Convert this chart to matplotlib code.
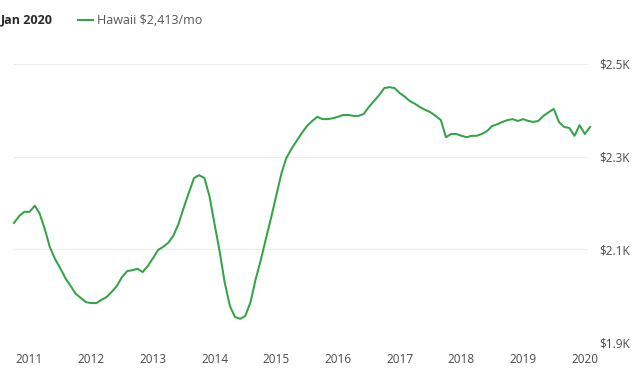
import matplotlib
matplotlib.use("Agg")
import matplotlib.pyplot as plt
import pandas as pd

start_month = "2010-10-01"
values = [
    2157, 2172, 2181, 2181, 2194, 2178, 2144, 2105, 2079, 2060, 2038, 2021,
    2004, 1995, 1986, 1984, 1984, 1991, 1997, 2008, 2021, 2040, 2053, 2055,
    2058, 2051, 2064, 2081, 2099, 2105, 2114, 2129, 2155, 2189, 2222, 2254,
    2260, 2254, 2215, 2153, 2092, 2029, 1978, 1954, 1950, 1956, 1986, 2036,
    2077, 2124, 2168, 2217, 2265, 2297, 2317, 2334, 2351, 2366, 2377, 2386,
    2381, 2381, 2383, 2386, 2390, 2390, 2388, 2388, 2392, 2407, 2420, 2433,
    2448, 2450, 2448, 2437, 2429, 2420, 2414, 2407, 2401, 2396, 2388, 2379,
    2342, 2349, 2349, 2345, 2342, 2345, 2345, 2349, 2355, 2366, 2370, 2375,
    2379, 2381, 2377, 2381, 2377, 2375, 2377, 2388, 2396, 2403, 2375, 2364,
    2362, 2345, 2368, 2349, 2364,
]
dates = pd.date_range(start_month, periods=len(values), freq="MS")
year_ticks = list(range(2011, 2021))
y_ticks = [1900, 2100, 2300, 2500]
y_tick_labels = ["$1.9K", "$2.1K", "$2.3K", "$2.5K"]
header_label = "Jan 2020"
series_label = "Hawaii $2,413/mo"

GREEN = "#33a347"
FONT = ["Open Sans", "DejaVu Sans"]
plt.rcParams["font.family"] = FONT

fig = plt.figure(figsize=(6.4, 3.72), dpi=100)
ax = fig.add_axes([14 / 640, 30 / 372, (588 - 14) / 640, (342 - 64) / 372])

ax.plot(dates, values, color=GREEN, lw=1.45, solid_joinstyle="round", clip_on=False)

ax.set_ylim(1900, 2500)
ax.set_xlim(pd.Timestamp("2010-10-01"), pd.Timestamp("2020-01-20"))
ax.set_yticks(y_ticks)
ax.set_yticklabels(y_tick_labels)
ax.set_xticks([pd.Timestamp(f"{y}-01-01") for y in year_ticks])
ax.set_xticklabels([str(y) for y in year_ticks])
ax.yaxis.tick_right()
ax.tick_params(axis="y", length=0, pad=8, labelsize=8.5, labelcolor="#4a4a4a")
ax.tick_params(axis="x", length=0, pad=8, labelsize=8.5, labelcolor="#4a4a4a")
ax.grid(axis="y", color="#ececec", lw=0.8)
ax.grid(axis="x", visible=False)
for s in ax.spines.values():
    s.set_visible(False)
ax.set_axisbelow(True)

fig.text(0.001, 1 - 20 / 372, header_label, fontsize=9, fontweight="bold",
         color="#2a2a2a", va="center", ha="left")
fig.add_artist(plt.Line2D([78 / 640, 93 / 640], [1 - 20 / 372, 1 - 20 / 372],
                          color=GREEN, lw=1.5))
fig.text(97 / 640, 1 - 20 / 372, series_label, fontsize=9, color="#555555",
         va="center", ha="left")

fig.savefig("out.png", dpi=100, facecolor="white")
